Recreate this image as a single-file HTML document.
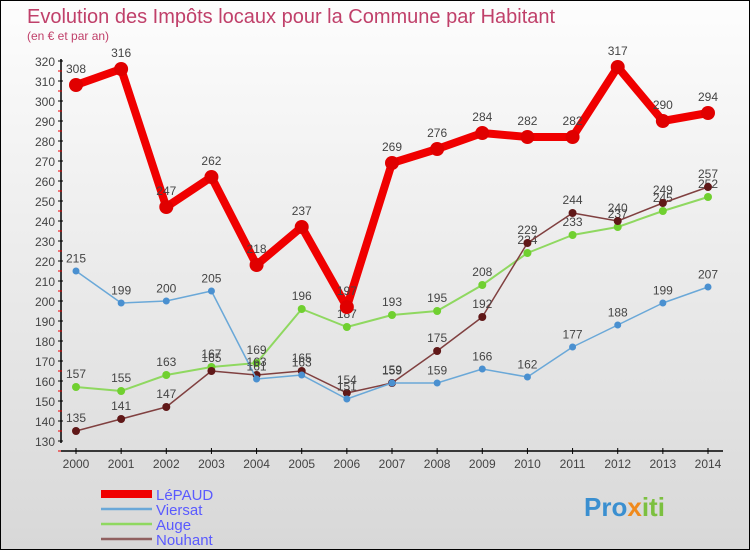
<!DOCTYPE html>
<html><head><meta charset="utf-8"><style>
body{margin:0;}
#c{width:750px;height:550px;position:relative;box-sizing:border-box;border:1px solid #000;background:linear-gradient(#fdfdfd,#d8d8d8);overflow:hidden;font-family:"Liberation Sans",sans-serif;}
text{font-family:"Liberation Sans",sans-serif;}
</style></head><body>
<div id="c">
<svg width="750" height="550" id="svg">
<text x="26" y="22" font-size="20" fill="#c0406a">Evolution des Impôts locaux pour la Commune par Habitant</text>
<text x="26" y="39" font-size="12" fill="#c0406a">(en € et par an)</text>
<g id="axes"></g><g id="series"></g><g id="legend"></g>
<text x="583" y="515" font-size="26" font-weight="bold" fill="#3a8fd0">Pro<tspan fill="#f08a1c">x</tspan><tspan fill="#7cc040">iti</tspan></text>
</svg></div>
<script>
const years=[2000,2001,2002,2003,2004,2005,2006,2007,2008,2009,2010,2011,2012,2013,2014];
const yTicks=[130,140,150,160,170,180,190,200,210,220,230,240,250,260,270,280,290,300,310,320];
const lepaud=[308,316,247,262,218,237,197,269,276,284,282,282,317,290,294];
const viersat=[215,199,200,205,161,163,151,159,159,166,162,177,188,199,207];
const auge=[157,155,163,167,169,196,187,193,195,208,224,233,237,245,252];
const nouhant=[135,141,147,165,163,165,154,159,175,192,229,244,240,249,257];
const seriesNames=["LéPAUD","Viersat","Auge","Nouhant"];
const NS="http://www.w3.org/2000/svg";
function X(i){return 75+i*(707-75)/14;}
function Y(v){return 60+(320-v)*2;}
function mk(t,a,p){const e=document.createElementNS(NS,t);for(const k in a)e.setAttribute(k,a[k]);p.appendChild(e);return e;}
const ax=document.getElementById('axes');
const yl=mk('line',{x1:60,y1:58,x2:60,y2:442,stroke:'#000','stroke-width':1.5},ax);


yTicks.forEach(v=>{
 mk('line',{x1:57,x2:62,y1:Y(v),y2:Y(v),stroke:'#000'},ax);
 mk('line',{x1:57,x2:61,y1:Y(v)+10,y2:Y(v)+10,stroke:'#e00'},ax);
 const t=mk('text',{x:54,y:Y(v)+5,'font-size':12,fill:'#444','text-anchor':'end'},ax);t.textContent=v;
 
 
});
const xl=mk('line',{x1:60,y1:450,x2:722,y2:450,stroke:'#000','stroke-width':1.5},ax);


years.forEach((y,i)=>{
 mk('line',{x1:X(i),x2:X(i),y1:447,y2:453,stroke:'#000'},ax);
 const t=mk('text',{x:X(i),y:467,'font-size':12,fill:'#444','text-anchor':'middle'},ax);t.textContent=y;
 
 
});
const sg=document.getElementById('series');
function draw(data,color,dot,w,r,name){
 const g=mk('g',{},sg);
 
 
 mk('polyline',{points:data.map((v,i)=>X(i)+','+Y(v)).join(' '),fill:'none',stroke:color,'stroke-width':w,'stroke-linejoin':'round'},g);
 data.forEach((v,i)=>{
  const c=mk('circle',{cx:X(i),cy:Y(v),r:r,fill:dot},g);
  
  
  const t=mk('text',{x:X(i),y:Y(v)-(r+5),'font-size':12,fill:'#444','text-anchor':'middle'},g);t.textContent=v;
  
  
 });
}
draw(auge,'#8fd860','#70d030',2,4,'auge');
draw(nouhant,'#804040','#601818',1.5,4,'nouhant');
draw(viersat,'#6aa8d8','#4a90d0',1.5,3.5,'viersat');
draw(lepaud,'#f00000','#e00000',8,7,'lepaud');
const lg=document.getElementById('legend');
const cols=['#f00000','#6aa8d8','#8fd860','#906060'];const ws=[8,2.5,2.5,2.5];
seriesNames.forEach((n,i)=>{
 const yy=493+i*15;
 const l=mk('line',{x1:100,x2:151,y1:yy,y2:yy,stroke:cols[i],'stroke-width':ws[i]},lg);
 
 
 const t=mk('text',{x:155,y:yy+6,'font-size':15,fill:'#5a5aff'},lg);t.textContent=n;
 
 
});
</script>
</body></html>
